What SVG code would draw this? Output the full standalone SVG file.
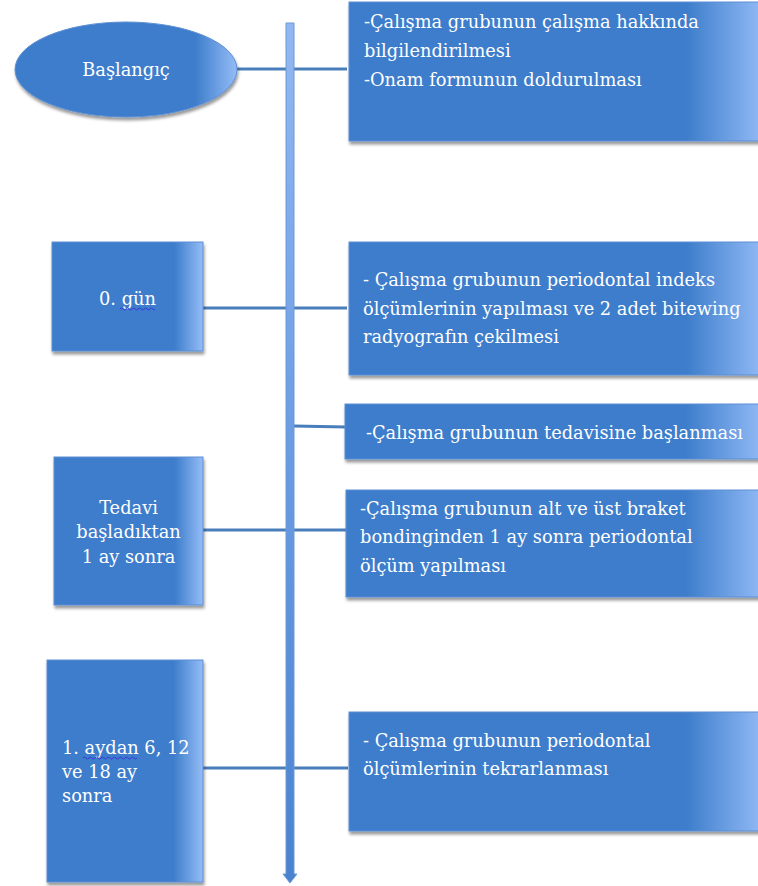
<svg xmlns="http://www.w3.org/2000/svg" width="758" height="886" viewBox="0 0 758 886">
<style>
.box{fill:url(#hg);stroke:#5d8fd3;stroke-width:1;filter:url(#sh)}
.t{font-family:"DejaVu Serif","Liberation Serif",serif;font-size:17.8px;fill:#ffffff}
.c{text-anchor:middle}
.con{stroke:#4a7ebb;stroke-width:3;fill:none}
.sq{stroke:#3b3bd8;stroke-width:1;fill:none}
</style>
<defs>
<linearGradient id="hg" x1="0" y1="0" x2="1" y2="0">
<stop offset="0" stop-color="#3d7dcb"/>
<stop offset="0.81" stop-color="#3d7dcb"/>
<stop offset="1" stop-color="#94bcf7"/>
</linearGradient>
<linearGradient id="vg" x1="0" y1="0" x2="0" y2="1">
<stop offset="0" stop-color="#92b8f2"/>
<stop offset="0.5" stop-color="#6a9ce2"/>
<stop offset="1" stop-color="#4a82cf"/>
</linearGradient>
<filter id="sh" x="-10%" y="-10%" width="130%" height="130%">
<feDropShadow dx="1" dy="3" stdDeviation="1.5" flood-color="#000" flood-opacity="0.4"/>
</filter>
</defs>
<rect width="758" height="886" fill="#ffffff"/>

<g id="connectors">
<line class="con" x1="237" y1="69" x2="347" y2="69"/>
<line class="con" x1="203" y1="308" x2="347" y2="308"/>
<line class="con" x1="294" y1="426" x2="346" y2="427"/>
<line class="con" x1="203" y1="530" x2="346" y2="530"/>
<line class="con" x1="203" y1="768" x2="348" y2="768"/>
<path d="M286 23 H294 V874 H297 L290 883 L283 874 H286 Z" fill="url(#vg)" stroke="#6d98d6" stroke-width="1"/>
</g>

<g id="start">
<ellipse class="box" cx="126" cy="69.5" rx="111" ry="47.5"/>
<text class="t c" x="126" y="76">Başlangıç</text>
</g>

<g id="step1">
<rect class="box" x="349" y="2" width="416" height="139"/>
<text class="t" x="364" y="28">-Çalışma grubunun çalışma hakkında</text>
<text class="t" x="364" y="57">bilgilendirilmesi</text>
<text class="t" x="364" y="86">-Onam formunun doldurulması</text>
</g>

<g id="day0">
<rect class="box" x="52" y="242" width="151" height="109"/>
<text class="t c" x="127.5" y="305">0. gün</text>
<path class="sq" d="M120 309 q1.5 -2 3 0 t3 0 t3 0 t3 0 t3 0 t3 0 t3 0 t3 0 t3 0 t3 0 t3 0 t2 0"/>
</g>

<g id="step2">
<rect class="box" x="349" y="242" width="416" height="133"/>
<text class="t" x="363" y="286">- Çalışma grubunun periodontal indeks</text>
<text class="t" x="363" y="315">ölçümlerinin yapılması ve 2 adet bitewing</text>
<text class="t" x="363" y="343">radyografın çekilmesi</text>
</g>

<g id="step3">
<rect class="box" x="345" y="404" width="420" height="55"/>
<text class="t" x="366" y="439">-Çalışma grubunun tedavisine başlanması</text>
</g>

<g id="month1">
<rect class="box" x="54" y="457" width="149" height="148"/>
<text class="t c" x="128.5" y="514">Tedavi</text>
<text class="t c" x="128.5" y="538">başladıktan</text>
<text class="t c" x="128.5" y="563">1 ay sonra</text>
</g>

<g id="step4">
<rect class="box" x="346" y="490" width="419" height="107"/>
<text class="t" x="360" y="515">-Çalışma grubunun alt ve üst braket</text>
<text class="t" x="360" y="543">bondinginden 1 ay sonra periodontal</text>
<text class="t" x="360" y="572">ölçüm yapılması</text>
</g>

<g id="later">
<rect class="box" x="47" y="660" width="156" height="222"/>
<text class="t" x="62" y="754">1. aydan 6, 12</text>
<text class="t" x="62" y="778">ve 18 ay</text>
<text class="t" x="62" y="802">sonra</text>
<path class="sq" d="M83 758 q1.5 -2 3 0 t3 0 t3 0 t3 0 t3 0 t3 0 t3 0 t3 0 t3 0 t3 0 t3 0 t3 0 t3 0 t3 0 t3 0 t3 0 t3 0 t3 0"/>
</g>

<g id="step5">
<rect class="box" x="349" y="712" width="416" height="119"/>
<text class="t" x="363" y="747">- Çalışma grubunun periodontal</text>
<text class="t" x="363" y="775">ölçümlerinin tekrarlanması</text>
</g>
</svg>
